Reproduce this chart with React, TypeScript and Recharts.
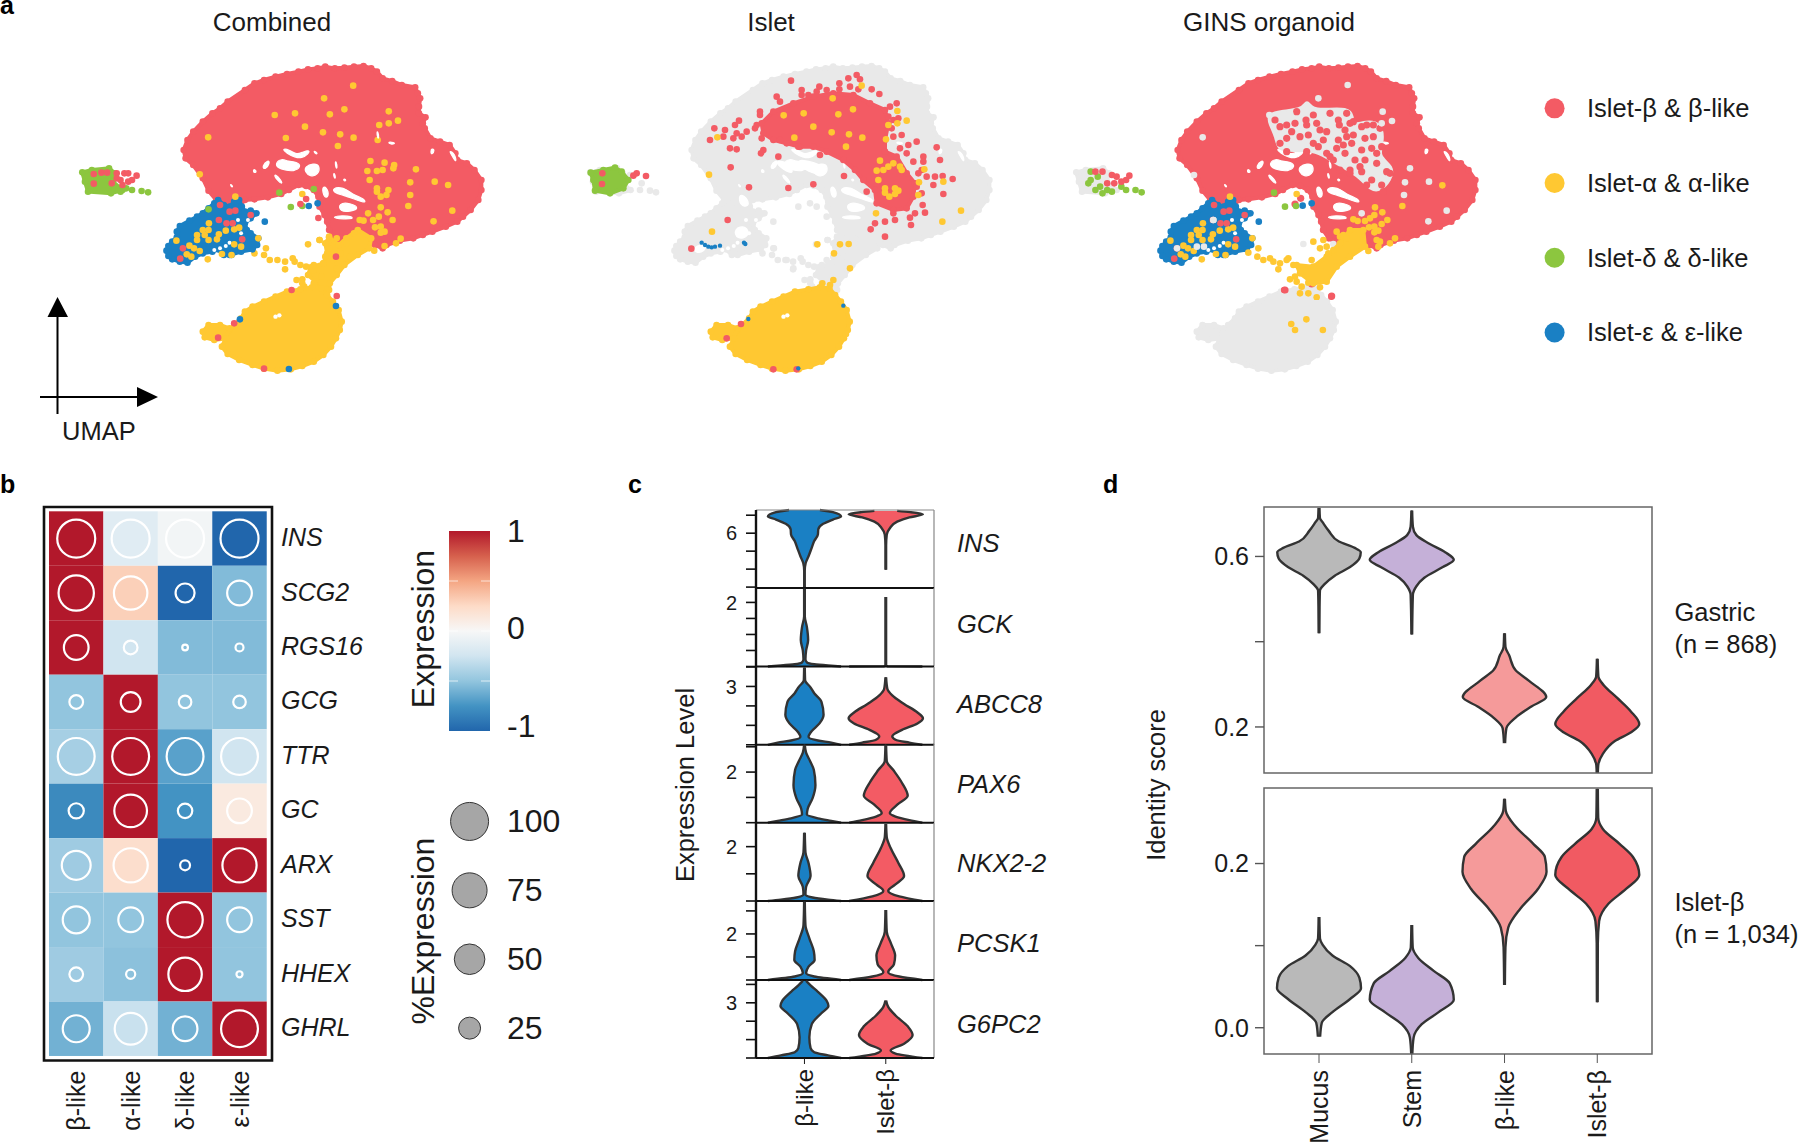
import {
  Area,
  Bar,
  BarChart,
  ComposedChart,
  ReferenceArea,
  ReferenceLine,
  Scatter,
  ScatterChart,
  XAxis,
  YAxis,
} from 'recharts';

const FONT = '"Liberation Sans", Arial, sans-serif';
const INK = '#1a1a1a';
const RED = '#f35b64';
const YELLOW = '#ffc832';
const GREEN = '#8cc63f';
const BLUE = '#1a80c4';
const GREY = '#e9e9e9';
const WHITE = '#ffffff';

// ---- panel a: UMAP in crop units ----
// shared outlines are in the units of the "Combined" crop (1568 x 1380)
const betaOutline = [
  [480, 450], [490, 420], [505, 395], [530, 365], [555, 340], [575, 325], [595, 305], [640, 270], [665, 250],
  [690, 240], [720, 230], [750, 222], [780, 215], [805, 208], [830, 205], [850, 200], [875, 205], [900, 203],
  [925, 200], [950, 198], [970, 205], [985, 215], [1000, 235], [1025, 243], [1050, 255], [1085, 262], [1092, 280],
  [1098, 295], [1095, 320], [1095, 340], [1112, 352], [1105, 370], [1110, 385], [1125, 415], [1150, 425], [1175, 435],
  [1190, 460], [1195, 480], [1220, 490], [1240, 510], [1258, 540], [1258, 570], [1250, 600], [1230, 630], [1210, 650],
  [1195, 665], [1165, 680], [1130, 695], [1105, 705], [1080, 715], [1045, 722], [1010, 735], [1000, 745], [980, 735],
  [950, 725], [920, 735], [890, 725], [875, 715], [860, 690], [855, 665], [848, 645], [835, 620], [832, 590],
  [820, 570], [800, 558], [780, 555], [755, 570], [735, 582], [700, 592], [665, 598], [640, 600], [620, 625],
  [585, 625], [565, 600], [545, 572], [530, 535], [505, 495], [485, 475],
];
const stemOutline = [
  [860, 712], [885, 735], [905, 715], [935, 690], [970, 715], [965, 745], [935, 765], [900, 795], [880, 825],
  [862, 850], [860, 870], [825, 872], [825, 845], [805, 825], [812, 802], [845, 790], [855, 760], [850, 730],
];
const stemEdgeDots = [[925, 700], [905, 730], [890, 760], [870, 780], [915, 770], [880, 805], [835, 720], [818, 812], [790, 838], [852, 868]];
const ringDots = [
  [835, 720], [860, 710], [880, 715], [860, 745], [850, 770], [845, 790], [820, 795], [800, 800], [785, 795],
  [770, 785], [765, 775], [745, 785], [745, 808], [725, 780], [705, 780], [690, 765], [695, 745], [665, 760],
  [805, 733], [775, 840], [790, 850], [795, 860], [820, 850], [840, 830],
];
const alphaOutline = [
  [580, 1040], [590, 1015], [600, 990], [612, 975], [630, 955], [640, 935], [660, 920], [690, 905], [720, 890],
  [750, 875], [785, 868], [815, 862], [840, 865], [855, 885], [870, 905], [885, 930], [893, 965], [888, 990],
  [878, 1015], [865, 1040], [845, 1065], [820, 1085], [790, 1098], [760, 1108], [725, 1112], [690, 1106],
  [660, 1095], [625, 1080], [595, 1062],
];
const alphaLobe = [[530, 995], [545, 975], [575, 975], [600, 985], [590, 1015], [560, 1020], [535, 1012]];
const alphaHoles = [[720, 950], [730, 946]];
const alphaRedSpecks = [[880, 888], [878, 770], [612, 970], [570, 1013], [690, 1106], [762, 870]];
const alphaBlueSpecks = [[627, 958], [755, 1107], [878, 918]];
const epsilonOutline = [
  [435, 752], [440, 738], [450, 725], [462, 712], [462, 695], [470, 678], [495, 662], [515, 650], [530, 640],
  [545, 625], [560, 610], [570, 600], [585, 615], [600, 620], [612, 605], [625, 600], [632, 620], [640, 635],
  [655, 632], [670, 640], [655, 655], [640, 670], [645, 690], [655, 700], [675, 715], [672, 735], [660, 748],
  [630, 755], [600, 765], [585, 765], [570, 748], [555, 755], [530, 760], [510, 770], [490, 788], [470, 785],
  [450, 778], [440, 768],
];
const epsilonGaps = [[575, 745], [590, 738], [600, 728], [630, 700], [622, 660], [648, 660], [560, 750]];
const epsilonExtra = [[692, 665], [595, 760], [605, 765]];
const epsilonYellow = [
  [546, 670], [530, 690], [545, 690], [515, 705], [535, 705], [515, 720], [545, 720], [572, 703], [590, 692],
  [612, 688], [625, 683], [567, 718], [461, 722], [495, 737], [507, 745], [522, 753], [488, 763], [500, 770],
  [612, 733], [630, 740], [675, 715], [543, 778], [580, 762], [605, 765],
];
const epsilonRed = [
  [572, 660], [592, 670], [608, 670], [478, 745], [471, 776], [633, 718], [600, 635], [615, 632], [655, 645], [575, 615],
];
const deltaOutline = [
  [215, 517], [240, 510], [285, 505], [300, 520], [295, 545], [320, 570], [290, 580], [230, 575], [222, 545],
];
const deltaDots = [[345, 570], [370, 573], [387, 577], [315, 575], [330, 565]];
const deltaRed = [
  [245, 522], [265, 518], [280, 518], [305, 520], [325, 520], [335, 520], [357, 527], [245, 551], [292, 550],
  [305, 535], [315, 540], [335, 545], [345, 540], [320, 555],
];
const combinedYellow = [
  [923, 257], [847, 295], [718, 345], [771, 340], [862, 343], [900, 328], [1016, 334], [797, 380], [844, 397],
  [889, 403], [924, 413], [747, 414], [883, 438], [544, 412], [991, 375], [1016, 370], [1040, 362], [987, 420],
  [968, 483], [1005, 488], [960, 513], [985, 513], [1000, 510], [1028, 505], [1030, 495], [1087, 508], [966, 540],
  [1072, 547], [1136, 545], [1171, 555], [985, 565], [1015, 570], [985, 575], [1010, 585], [995, 590], [1072, 585],
  [1067, 618], [995, 622], [1013, 637], [1182, 632], [1133, 664], [962, 640], [990, 650], [975, 660], [940, 660],
  [950, 662], [1026, 660], [980, 682], [995, 680], [1005, 695], [995, 698], [1047, 716], [1035, 730], [1005, 738],
  [978, 752], [522, 523], [615, 590], [790, 582],
];
const ringGreen = [[760, 621], [790, 618], [730, 578], [820, 567], [545, 628]];
const ringBlue = [[807, 618], [830, 610]];
const ringRed = [[785, 612], [800, 597], [832, 654]];

// white gaps in the beta cloud, units of a 900 x 450 crop of its lower half
const cloudGaps = [
  [[335, 55], [360, 60], [380, 75], [400, 65], [420, 60], [415, 72], [395, 85], [375, 82], [350, 70]],
  [[430, 60], [445, 72], [435, 72]],
  [[315, 100], [335, 85], [355, 95], [380, 95], [395, 110], [370, 125], [345, 120], [325, 115]],
  [[405, 110], [430, 100], [450, 105], [445, 135], [420, 140], [405, 125]],
  [[275, 110], [295, 88], [300, 100], [285, 120]],
  [[250, 115], [262, 125], [250, 130]],
  [[310, 130], [330, 145], [340, 165], [320, 150]],
  [[455, 170], [470, 170], [478, 200], [462, 205]],
  [[485, 175], [520, 170], [550, 195], [580, 205], [590, 220], [560, 210], [520, 195], [495, 190]],
  [[505, 220], [540, 218], [570, 235], [540, 245], [510, 245]],
  [[480, 262], [520, 255], [560, 265], [520, 268]],
  [[495, 95], [499, 95], [502, 115], [498, 115]],
  [[490, 130], [494, 130], [497, 145], [493, 145]],
  [[620, 5], [624, 5], [627, 25], [623, 25]],
  [[650, 35], [680, 38], [665, 45]],
  [[785, 55], [795, 60], [785, 75], [782, 65]],
  [[835, 60], [855, 70], [860, 100], [848, 80]],
  [[180, 160], [190, 170], [184, 172]],
  [[520, 145], [530, 150], [522, 155]],
];

// Islet only, units of its own crop (1380 x 1080)
const isletGaps = [
  [[640, 360], [685, 365], [705, 405], [670, 390]],
  [[720, 355], [800, 380], [800, 400], [760, 405], [710, 370]],
  [[535, 460], [560, 470], [570, 500], [540, 500]],
  [[400, 620], [440, 610], [435, 635], [405, 640]],
  [[520, 565], [560, 555], [570, 590], [530, 600]],
];
const isletRedRegion = [
  [605, 250], [640, 215], [700, 190], [760, 170], [820, 160], [880, 165], [930, 190], [975, 210], [985, 250],
  [975, 300], [975, 335], [1010, 350], [1040, 400], [1065, 430], [1060, 470], [1040, 505], [1000, 510], [950, 490],
  [945, 450], [910, 420], [885, 390], [850, 360], [800, 335], [760, 320], [720, 320], [680, 310], [640, 300], [610, 280],
];
const isletRedDots = [
  [693, 122], [650, 170], [660, 185], [725, 150], [725, 165], [770, 155], [778, 140], [838, 130], [838, 148],
  [865, 115], [890, 105], [900, 118], [870, 140], [895, 148], [935, 148], [958, 162], [1010, 190], [990, 200],
  [1015, 235], [1000, 240], [995, 265], [1025, 285], [1000, 290], [1045, 315], [1070, 305], [1020, 325], [1130, 322],
  [1090, 350], [1090, 365], [1060, 365], [1140, 360], [1085, 390], [1100, 410], [1125, 410], [1148, 408], [1178, 417],
  [1120, 435], [1150, 462], [1088, 495], [1095, 518], [1065, 520], [1050, 533], [1053, 555], [1000, 520], [1005, 540],
  [975, 545], [945, 550], [932, 568], [975, 590], [463, 265], [450, 300], [490, 290], [495, 270], [525, 255],
  [537, 242], [530, 280], [520, 295], [545, 290], [560, 275], [585, 265], [600, 215], [600, 225], [590, 255],
  [605, 295], [610, 330], [603, 340], [510, 325], [530, 328], [655, 350], [512, 382], [567, 442], [685, 444],
  [760, 433], [852, 408], [920, 455], [503, 540], [394, 626], [543, 852], [500, 895], [660, 300], [715, 320], [780, 345],
  [640, 988], [710, 988], [745, 165], [800, 150], [985, 230], [1040, 340], [1075, 400], [1070, 440], [1085, 460],
];
const isletYellowDots = [
  [905, 137], [818, 175], [671, 226], [731, 220], [835, 223], [879, 208], [760, 260], [815, 277], [867, 283],
  [907, 293], [703, 293], [858, 320], [472, 292], [447, 404], [1012, 213], [1040, 242], [1012, 250], [985, 255],
  [978, 298], [960, 362], [985, 380], [1000, 370], [950, 392], [970, 390], [1020, 380], [1025, 390], [1093, 388],
  [955, 420], [1077, 427], [1150, 425], [975, 445], [1005, 445], [1015, 452], [975, 458], [1005, 462], [988, 470],
  [1075, 465], [948, 520], [1203, 512], [1147, 545], [456, 575], [772, 613], [840, 613], [866, 612], [822, 640],
  [870, 685], [787, 730], [820, 720], [810, 735], [858, 882],
];
const isletBlueDots = [[425, 608], [435, 615], [445, 620], [455, 622], [465, 620], [480, 617], [552, 608], [556, 612], [850, 797], [565, 837], [715, 985]];
const isletGreyDots = [
  [640, 545], [750, 490], [715, 500], [770, 500], [800, 530], [640, 625], [680, 660], [700, 685], [800, 660],
  [850, 650], [750, 720], [210, 405], [245, 430], [270, 452], [288, 457], [240, 450], [160, 397], [180, 430],
];
const isletGreen = [[92, 398], [130, 390], [165, 383], [185, 395], [205, 420], [190, 445], [150, 460], [105, 452], [100, 420]];
const isletGreenRed = [[127, 400], [126, 432], [230, 400], [220, 407], [258, 408]];

// GINS organoid core, units of a 900 x 720 crop
const ginsGreyPatch = [
  [265, 165], [300, 155], [370, 150], [380, 120], [395, 150], [440, 150], [500, 145], [520, 170], [510, 200], [560, 185],
  [600, 190], [610, 240], [590, 290], [640, 320], [630, 360], [600, 390], [575, 390], [540, 350], [490, 320], [440, 290],
  [400, 270], [340, 270], [295, 270], [290, 230], [270, 190],
];
const ginsPatchRed = [
  [378, 180], [380, 195], [345, 190], [320, 195], [335, 215], [320, 235], [360, 230], [385, 225], [410, 190], [415, 260],
  [400, 250], [430, 240], [440, 215], [475, 180], [478, 195], [495, 210], [510, 190], [520, 225], [545, 200], [555, 235],
  [475, 240], [490, 255], [515, 250], [545, 270], [495, 280], [470, 265], [580, 230], [575, 265], [525, 300], [460, 300],
  [450, 290], [480, 330], [510, 330], [555, 300], [590, 280], [620, 335], [605, 375], [575, 360], [545, 335], [500, 230],
  [420, 210], [540, 320], [580, 195], [450, 590], [455, 708], [315, 690], [395, 672], [362, 415], [345, 432],
  [285, 180], [300, 200], [350, 155], [400, 165], [450, 160], [500, 160], [520, 185], [560, 195], [600, 205], [605, 260],
  [590, 310], [630, 340], [610, 395], [560, 375], [510, 340], [440, 280], [380, 275], [320, 275], [300, 250],
];
const ginsPatchGrey = [
  [503, 75], [415, 115], [268, 165], [330, 160], [608, 155], [636, 183], [605, 190], [68, 232], [42, 345], [747, 365],
  [675, 367], [690, 325], [672, 405], [545, 460], [745, 484], [800, 452], [370, 552], [460, 552], [100, 480],
];
const ginsStem = [
  [510, 510], [550, 510], [555, 560], [510, 590], [470, 620], [440, 665], [400, 670], [360, 640], [350, 615], [400, 620],
  [440, 590], [480, 550],
];
const ginsStemDots = [
  [400, 545], [430, 540], [440, 560], [420, 565], [470, 515], [480, 530], [490, 525], [500, 535], [460, 570], [445, 580],
  [340, 615], [320, 600], [325, 595], [300, 610], [280, 605], [250, 600], [270, 595], [295, 628], [235, 565], [232, 590],
  [205, 578], [345, 650], [330, 658], [350, 665], [385, 668], [420, 682], [360, 700], [385, 700], [410, 712], [365, 680],
  [395, 600], [565, 573], [595, 560], [600, 545], [630, 550], [645, 535], [590, 540], [520, 478], [533, 483], [555, 483],
  [570, 475], [583, 465], [607, 457], [585, 442], [622, 480], [605, 492], [583, 500], [567, 502], [595, 512], [583, 517],
  [667, 438], [787, 376], [350, 402], [150, 410],
];
const ginsRingGreen = [[282, 398], [315, 440], [348, 438]];
const ginsRingBlue = [[368, 437], [395, 430]];

// GINS organoid edges, units of its legend crop (1568 x 1080)
const ginsFarRed = [[575, 770], [475, 750]];
const ginsFarGrey = [[325, 540], [248, 625], [290, 620], [305, 620]];
const ginsFarYellow = [[490, 852], [522, 838], [498, 870], [557, 870]];
const ginsGreenDots = [
  [65, 395], [80, 410], [65, 420], [60, 430], [75, 450], [90, 460], [110, 455], [130, 440], [85, 440], [100, 450],
  [140, 450], [160, 450], [173, 457],
];
const ginsGreenRed = [[75, 395], [90, 395], [110, 405], [120, 410], [100, 430], [115, 430], [130, 425], [140, 420], [147, 407]];

const umapTitles = ['Combined', 'Islet', 'GINS organoid'];
const umapLegend = ['Islet-β & β-like', 'Islet-α & α-like', 'Islet-δ & δ-like', 'Islet-ε & ε-like'];
const umapLegendColors = [RED, YELLOW, GREEN, BLUE];

// ---- panel b: scaled expression and percent expressing ----
const dotGenes = ['INS', 'SCG2', 'RGS16', 'GCG', 'TTR', 'GC', 'ARX', 'SST', 'HHEX', 'GHRL'];
const dotTypes = ['β-like', 'α-like', 'δ-like', 'ε-like'];
const dotExpression = [
  [1, -0.15, -0.03, -1],
  [1, 0.3, -1, -0.55],
  [1, -0.25, -0.55, -0.55],
  [-0.5, 1, -0.5, -0.5],
  [-0.42, 1, -0.68, -0.25],
  [-0.8, 1, -0.75, 0.12],
  [-0.45, 0.22, -1, 1],
  [-0.5, -0.5, 1, -0.5],
  [-0.45, -0.52, 1, -0.5],
  [-0.6, -0.28, -0.6, 1],
];
const dotPercent = [
  [100, 100, 100, 100],
  [93, 88, 50, 65],
  [65, 36, 15, 21],
  [36, 52, 33, 33],
  [97, 97, 97, 97],
  [40, 86, 38, 65],
  [76, 90, 26, 90],
  [71, 65, 93, 65],
  [36, 24, 88, 16],
  [71, 84, 65, 97],
];
const colorbarValues = [-1, -0.75, -0.5, -0.25, 0, 0.25, 0.5, 0.75, 1];
const colorbarColors = ['#2166ac', '#4393c3', '#92c5de', '#d1e5f0', '#f7f7f7', '#fddbc7', '#f4a582', '#d6604d', '#b2182b'];
const colorbarTicks = [-1, 0, 1];
const percentLegend = ['100', '75', '50', '25'];
const percentLegendRadius = [19, 17.5, 15.3, 11];

// ---- panel c: stacked violins, [level, half width] ----
const insLike = [[7.29, 0.19], [7.17, 0.35], [6.93, 0.45], [6.76, 0.35], [6.52, 0.23], [6.21, 0.17], [5.92, 0.165], [5.56, 0.12], [5.2, 0.09], [4.72, 0.05], [4.34, 0.015], [3.9, 0.003], [2.95, 0.003]];
const insIslet = [[7.24, 0.14], [7.17, 0.3], [7.05, 0.457], [6.88, 0.29], [6.64, 0.14], [6.28, 0.05], [5.92, 0.012], [5.32, 0.004], [3.96, 0.004]];
const gckLike = [[2.43, 0.004], [1.57, 0.004], [1.23, 0.03], [0.83, 0.045], [0.5, 0.02], [0.23, 0.012], [0.13, 0.03], [0.07, 0.12], [0.03, 0.29], [0, 0.45]];
const gckIslet = [[2.17, 0.004], [0.05, 0.004], [0.01, 0.02], [0, 0.45]];
const abcc8Like = [[3.97, 0.004], [3.31, 0.008], [2.98, 0.07], [2.65, 0.12], [2.2, 0.21], [1.55, 0.235], [1.1, 0.185], [0.66, 0.08], [0.4, 0.05], [0.22, 0.165], [0.11, 0.33], [0, 0.45]];
const abcc8Islet = [[3.47, 0.004], [2.87, 0.02], [2.54, 0.08], [2.1, 0.225], [1.66, 0.39], [1.37, 0.457], [1.1, 0.39], [0.77, 0.2], [0.44, 0.08], [0.26, 0.12], [0.11, 0.29], [0, 0.45]];
const pax6Like = [[3.08, 0.004], [2.77, 0.02], [2.43, 0.07], [2.09, 0.115], [1.49, 0.135], [0.97, 0.1], [0.55, 0.04], [0.32, 0.03], [0.17, 0.165], [0.07, 0.33], [0, 0.45]];
const pax6Islet = [[3.08, 0.004], [2.43, 0.012], [2.09, 0.09], [1.57, 0.2], [1.06, 0.27], [0.72, 0.145], [0.38, 0.05], [0.24, 0.12], [0.1, 0.29], [0, 0.45]];
const nkxLike = [[2.51, 0.004], [1.79, 0.012], [1.4, 0.05], [0.92, 0.075], [0.52, 0.02], [0.24, 0.012], [0.13, 0.1], [0.05, 0.29], [0, 0.45]];
const nkxIslet = [[2.83, 0.004], [2.35, 0.012], [1.95, 0.06], [1.4, 0.155], [0.92, 0.225], [0.6, 0.115], [0.37, 0.03], [0.17, 0.165], [0, 0.45]];
const pcskLike = [[3.4, 0.004], [2.38, 0.012], [1.81, 0.06], [1.25, 0.115], [0.87, 0.125], [0.58, 0.05], [0.3, 0.02], [0.15, 0.12], [0, 0.45]];
const pcskIslet = [[3.04, 0.004], [2.09, 0.012], [1.62, 0.06], [1.06, 0.115], [0.68, 0.1], [0.34, 0.03], [0.15, 0.165], [0, 0.45]];
const g6pcLike = [[4.19, 0.02], [3.95, 0.075], [3.6, 0.165], [3.13, 0.27], [2.82, 0.295], [2.42, 0.205], [1.84, 0.09], [1.13, 0.06], [0.54, 0.075], [0.31, 0.12], [0.14, 0.29], [0, 0.45]];
const g6pcIslet = [[3.13, 0.004], [2.78, 0.03], [2.31, 0.12], [1.72, 0.27], [1.25, 0.33], [0.78, 0.225], [0.42, 0.06], [0.24, 0.12], [0, 0.45]];

const stackGenes = ['INS', 'GCK', 'ABCC8', 'PAX6', 'NKX2-2', 'PCSK1', 'G6PC2'];
const stackDomains = [[2.95, 7.29], [0, 2.45], [0, 4], [0, 3.11], [0, 2.87], [0, 3.43], [0, 4.24]];
const stackTicks = [[3, 4, 5, 6, 7], [0, 0.5, 1, 1.5, 2], [0, 1, 2, 3, 4], [0, 1, 2, 3], [0, 1, 2], [0, 1, 2, 3], [0, 1, 2, 3, 4]];
const stackLabelled = [6, 2, 3, 2, 2, 2, 3];
const stackLike = [insLike, gckLike, abcc8Like, pax6Like, nkxLike, pcskLike, g6pcLike];
const stackIslet = [insIslet, gckIslet, abcc8Islet, pax6Islet, nkxIslet, pcskIslet, g6pcIslet];
const stackTypes = ['β-like', 'Islet-β'];

// ---- panel d: identity score violins, [score, half width] ----
const gastricMucus = [[0.714, 0.005], [0.69, 0.01], [0.68, 0.04], [0.66, 0.105], [0.635, 0.215], [0.62, 0.385], [0.61, 0.45], [0.595, 0.435], [0.575, 0.335], [0.555, 0.17], [0.535, 0.06], [0.52, 0.01], [0.48, 0.006], [0.42, 0.004]];
const gastricStem = [[0.708, 0.004], [0.67, 0.012], [0.65, 0.05], [0.63, 0.19], [0.61, 0.36], [0.592, 0.453], [0.575, 0.335], [0.55, 0.135], [0.53, 0.05], [0.51, 0.012], [0.417, 0.004]];
const gastricLike = [[0.42, 0.004], [0.388, 0.01], [0.368, 0.05], [0.333, 0.12], [0.308, 0.265], [0.27, 0.45], [0.248, 0.29], [0.222, 0.12], [0.197, 0.02], [0.162, 0.006]];
const gastricIslet = [[0.36, 0.004], [0.318, 0.012], [0.298, 0.07], [0.268, 0.215], [0.237, 0.36], [0.207, 0.453], [0.187, 0.36], [0.167, 0.19], [0.137, 0.06], [0.11, 0.01], [0.092, 0.006]];
const isletMucus = [[0.135, 0.004], [0.109, 0.01], [0.101, 0.04], [0.088, 0.145], [0.075, 0.335], [0.061, 0.435], [0.048, 0.453], [0.035, 0.335], [0.019, 0.145], [0.006, 0.03], [-0.011, 0.012]];
const isletStem = [[0.125, 0.004], [0.098, 0.01], [0.085, 0.07], [0.069, 0.24], [0.054, 0.41], [0.034, 0.453], [0.019, 0.29], [0.004, 0.105], [-0.012, 0.02], [-0.032, 0.006]];
const isletLike = [[0.279, 0.004], [0.264, 0.014], [0.245, 0.12], [0.224, 0.31], [0.208, 0.435], [0.19, 0.453], [0.169, 0.36], [0.145, 0.17], [0.122, 0.04], [0.098, 0.01], [0.052, 0.004]];
const isletIslet = [[0.291, 0.006], [0.256, 0.01], [0.242, 0.06], [0.224, 0.24], [0.208, 0.385], [0.186, 0.453], [0.169, 0.31], [0.151, 0.12], [0.13, 0.02], [0.103, 0.006], [0.031, 0.004]];

const scoreTypes = ['Mucus', 'Stem', 'β-like', 'Islet-β'];
const scoreColors = ['#b9b9b9', '#c5b0d8', '#f59a9a', '#f15a62'];

const toPoints = (list: number[][]) => list.map(([x, y]) => ({ x, y }));
const toViolin = (center: number, profile: number[][]) =>
  profile.map(([level, half]) => ({ level, range: [center - half, center + half] }));

function blend(z: number) {
  let i = 0;
  while (i < colorbarValues.length - 2 && z > colorbarValues[i + 1]) i++;
  const t = (z - colorbarValues[i]) / (colorbarValues[i + 1] - colorbarValues[i]);
  const rgb = (c: string) => [1, 3, 5].map(n => parseInt(c.slice(n, n + 2), 16));
  const a = rgb(colorbarColors[i]);
  const b = rgb(colorbarColors[i + 1]);
  return `rgb(${a.map((v, k) => Math.round(v + (b[k] - v) * t)).join(',')})`;
}

type Layer = { points: number[][]; color: string; r?: number; closed?: boolean; round?: boolean; bare?: boolean };

function Umap({ left, top, width, height, xMax, yMax, layers }: {
  left: number; top: number; width: number; height: number; xMax: number; yMax: number; layers: Layer[];
}) {
  return (
    <div style={{ position: 'absolute', left, top }}>
      <ScatterChart width={width} height={height} margin={{ top: 0, right: 0, bottom: 0, left: 0 }}>
        <XAxis type="number" dataKey="x" domain={[0, xMax]} hide />
        <YAxis type="number" dataKey="y" domain={[0, yMax]} reversed hide />
        {layers.map((layer, i) => (
          <Scatter
            key={i}
            data={toPoints(layer.points)}
            fill={layer.color}
            isAnimationActive={false}
            line={layer.closed ? { fill: layer.color, stroke: layer.color, strokeWidth: (layer.r ?? 3.3) * 1.2 } : false}
            lineJointType={layer.round ? 'basisClosed' : 'linearClosed'}
            shape={(p: any) => (layer.bare ? <g /> : <circle cx={p.cx} cy={p.cy} r={layer.r ?? 3.3} fill={layer.color} />)}
          />
        ))}
      </ScatterChart>
    </div>
  );
}

const gapLayers = (gaps: number[][][]): Layer[] =>
  gaps.map(points => ({ points, color: WHITE, r: 1, closed: true, round: true, bare: true }));

const blueLayers = (): Layer[] => [
  { points: epsilonOutline, color: BLUE, closed: true },
  { points: epsilonExtra, color: BLUE },
  { points: epsilonGaps, color: WHITE, r: 2 },
  { points: epsilonYellow, color: YELLOW },
  { points: epsilonRed, color: RED },
];

const combinedLayers: Layer[] = [
  { points: betaOutline, color: RED, closed: true },
  { points: stemOutline, color: YELLOW, closed: true },
  { points: stemEdgeDots, color: YELLOW },
  { points: ringDots, color: YELLOW },
  { points: alphaOutline, color: YELLOW, closed: true },
  { points: alphaLobe, color: YELLOW, closed: true },
  { points: alphaHoles, color: WHITE, r: 2.2 },
  { points: alphaRedSpecks, color: RED },
  { points: alphaBlueSpecks, color: BLUE },
  ...blueLayers(),
  { points: deltaOutline, color: GREEN, closed: true },
  { points: deltaDots, color: GREEN },
  { points: deltaRed, color: RED },
  { points: combinedYellow, color: YELLOW },
  { points: ringGreen, color: GREEN },
  { points: ringBlue, color: BLUE },
  { points: ringRed, color: RED },
];

const isletBase: Layer[] = [
  { points: betaOutline, color: GREY, closed: true },
  { points: stemOutline, color: GREY, closed: true },
  { points: stemEdgeDots, color: GREY },
  { points: ringDots, color: GREY },
  { points: epsilonOutline, color: GREY, closed: true },
  { points: epsilonGaps, color: WHITE, r: 2 },
  { points: deltaOutline, color: GREY, closed: true },
  { points: alphaOutline, color: YELLOW, closed: true },
  { points: alphaLobe, color: YELLOW, closed: true },
  { points: alphaHoles, color: WHITE, r: 2.2 },
];
const isletOverlay: Layer[] = [
  ...gapLayers(isletGaps),
  { points: isletGreyDots, color: GREY },
  { points: isletRedRegion, color: RED, closed: true },
  { points: isletRedDots, color: RED },
  { points: isletYellowDots, color: YELLOW },
  { points: isletBlueDots, color: BLUE, r: 2.2 },
  { points: isletGreen, color: GREEN, closed: true },
  { points: isletGreenRed, color: RED },
];

const ginsBase: Layer[] = [
  { points: alphaOutline, color: GREY, closed: true },
  { points: alphaLobe, color: GREY, closed: true },
  { points: deltaOutline, color: GREY, closed: true },
  { points: betaOutline, color: RED, closed: true },
  ...blueLayers(),
];
const ginsCore: Layer[] = [
  { points: ginsGreyPatch, color: GREY, closed: true, round: true, bare: true },
  { points: ginsPatchRed, color: RED, r: 3.6 },
  { points: ginsPatchGrey, color: GREY },
  { points: ginsStem, color: YELLOW, closed: true },
  { points: ginsStemDots, color: YELLOW },
  { points: ginsRingGreen, color: GREEN },
  { points: ginsRingBlue, color: BLUE },
];
const ginsEdges: Layer[] = [
  { points: ginsFarRed, color: RED },
  { points: ginsFarGrey, color: GREY },
  { points: ginsFarYellow, color: YELLOW },
  { points: ginsGreenDots, color: GREEN },
  { points: ginsGreenRed, color: RED },
];

const RotatedTick = (labels: string[], size: number, first = 0) => (p: any) => (
  <text
    x={p.x}
    y={p.y}
    transform={`rotate(-90 ${p.x} ${p.y})`}
    textAnchor="end"
    dominantBaseline="central"
    fontSize={size}
    fontFamily={FONT}
    fill={INK}
  >
    {labels[Math.round(p.payload.value) - first]}
  </text>
);

function DotKey({ left, top, plotWidth, height, dotAt, labels, colors, radius, fontSize, textWidth }: {
  left: number; top: number; plotWidth: number; height: number; dotAt: number; labels: string[];
  colors: string[]; radius: number[]; fontSize: number; textWidth: number;
}) {
  const rows = labels.map((label, i) => ({ x: dotAt, y: i, label }));
  return (
    <div style={{ position: 'absolute', left, top }}>
      <ScatterChart width={plotWidth + textWidth} height={height} margin={{ top: 0, right: 0, bottom: 0, left: 0 }}>
        <XAxis type="number" dataKey="x" domain={[0, 1]} hide />
        <YAxis
          type="number"
          dataKey="y"
          orientation="right"
          width={textWidth}
          domain={[-0.5, labels.length - 0.5]}
          reversed
          ticks={labels.map((_, i) => i)}
          interval={0}
          axisLine={false}
          tickLine={false}
          tickSize={0}
          tickMargin={0}
          tick={(p: any) => (
            <text x={p.x} y={p.y} dominantBaseline="central" fontSize={fontSize} fontFamily={FONT} fill={INK}>
              {labels[p.payload.value]}
            </text>
          )}
        />
        <Scatter
          data={rows}
          isAnimationActive={false}
          shape={(p: any) => (
            <circle
              cx={p.cx}
              cy={p.cy}
              r={radius[p.payload.y]}
              fill={colors[p.payload.y]}
              stroke={colors[p.payload.y] === '#a6a6a6' ? '#333' : 'none'}
              strokeWidth={1}
            />
          )}
        />
      </ScatterChart>
    </div>
  );
}

const heatCells = dotGenes.flatMap((_, row) =>
  dotTypes.map((__, col) => ({ col, row, z: dotExpression[row][col], pct: dotPercent[row][col] })),
);
const CELL = 54.45;

function DotHeatmap() {
  return (
    <div style={{ position: 'absolute', left: 40, top: 502.5 }}>
      <ScatterChart width={362} height={637.5} margin={{ top: 4, right: 0, bottom: 0, left: 4 }}>
        <XAxis
          type="number"
          dataKey="col"
          domain={[-0.592, 3.597]}
          ticks={[0, 1, 2, 3]}
          interval={0}
          height={80}
          axisLine={false}
          tickLine={false}
          tickSize={0}
          tickMargin={10}
          tick={RotatedTick(dotTypes, 25)}
        />
        <YAxis
          type="number"
          dataKey="row"
          orientation="right"
          width={130}
          domain={[-0.579, 9.583]}
          reversed
          ticks={dotGenes.map((_, i) => i)}
          interval={0}
          axisLine={false}
          tickLine={false}
          tickSize={0}
          tickMargin={9}
          tick={(p: any) => (
            <text x={p.x} y={p.y - 1.5} dominantBaseline="central" fontSize={25} fontStyle="italic" fontFamily={FONT} fill={INK}>
              {dotGenes[p.payload.value]}
            </text>
          )}
        />
        <Scatter
          data={heatCells}
          isAnimationActive={false}
          shape={(p: any) => (
            <g>
              <rect x={p.cx - CELL / 2} y={p.cy - CELL / 2} width={CELL} height={CELL} fill={blend(p.payload.z)} />
              <circle cx={p.cx} cy={p.cy} r={(p.payload.pct / 100) * 19} fill="none" stroke="#fff" strokeWidth={2.2} />
            </g>
          )}
        />
        <ReferenceArea x1={-0.592} x2={3.597} y1={-0.579} y2={9.583} fill="none" stroke="#111" strokeWidth={2.6} ifOverflow="visible" />
      </ScatterChart>
    </div>
  );
}

const colorbarLabelShift: Record<number, number> = { 1: 0, 0: -3, [-1]: -5 };

function Colorbar() {
  return (
    <div style={{ position: 'absolute', left: 449, top: 505 }}>
      <BarChart
        width={101}
        height={252}
        data={[{ name: 'z', range: [-1, 1] }]}
        barCategoryGap={0}
        margin={{ top: 26, right: 0, bottom: 26, left: 0 }}
      >
        <defs>
          <linearGradient id="colorbarFill" x1="0" y1="1" x2="0" y2="0">
            {colorbarValues.map((v, i) => (
              <stop key={v} offset={`${((v + 1) / 2) * 100}%`} stopColor={colorbarColors[i]} />
            ))}
          </linearGradient>
        </defs>
        <XAxis dataKey="name" hide />
        <YAxis
          orientation="right"
          width={60}
          domain={[-1, 1]}
          ticks={colorbarTicks}
          interval={0}
          axisLine={false}
          tickLine={false}
          tickSize={0}
          tickMargin={0}
          tick={(p: any) => (
            <text
              x={p.x + 17}
              y={p.y + colorbarLabelShift[p.payload.value]}
              dominantBaseline="central"
              fontSize={32}
              fontFamily={FONT}
              fill={INK}
            >
              {p.payload.value}
            </text>
          )}
        />
        <Bar dataKey="range" fill="url(#colorbarFill)" isAnimationActive={false} />
        {[-0.5, 0, 0.5].map(v => (
          <ReferenceLine key={v} y={v} stroke="#fff" strokeOpacity={0.7} strokeWidth={1} strokeDasharray="9 23 9" />
        ))}
      </BarChart>
    </div>
  );
}

const STACK_TOPS = [510, 588, 666.5, 744.3, 823, 901, 980, 1058];

function StackRow({ row }: { row: number }) {
  const last = row === stackGenes.length - 1;
  const [lo, hi] = stackDomains[row];
  const plotHeight = STACK_TOPS[row + 1] - STACK_TOPS[row];
  return (
    <div style={{ position: 'absolute', left: 676, top: STACK_TOPS[row] - 3 }}>
      <ComposedChart
        layout="vertical"
        width={261}
        height={plotHeight + 3 + (last ? 86 : 3)}
        margin={{ top: 3, right: 3, bottom: last ? 0 : 3, left: 0 }}
      >
        <XAxis
          type="number"
          domain={[0.404, 2.593]}
          ticks={[1, 2]}
          interval={0}
          hide={!last}
          height={86}
          axisLine={false}
          tickSize={6}
          tickMargin={5}
          stroke={INK}
          tick={RotatedTick(stackTypes, 24, 1)}
        />
        <YAxis
          type="number"
          dataKey="level"
          domain={[lo, hi]}
          reversed
          ticks={stackTicks[row]}
          interval={0}
          width={80}
          axisLine={{ stroke: '#111', strokeWidth: 2.4 }}
          tickLine={{ stroke: '#111', strokeWidth: 1.6 }}
          tickSize={10}
          tickMargin={9}
          tick={{ fontSize: 20, fontFamily: FONT, fill: INK }}
          tickFormatter={(v: number) => (v === stackLabelled[row] ? String(v) : '')}
        />
        {row === 0 && <ReferenceLine y={hi} stroke="#888" strokeWidth={1.2} />}
        <ReferenceLine x={2.593} stroke="#888" strokeWidth={1.2} />
        <Area
          data={toViolin(1, stackLike[row])}
          dataKey="range"
          type="monotone"
          fill={BLUE}
          fillOpacity={1}
          stroke="#333"
          strokeWidth={2.4}
          dot={false}
          activeDot={false}
          isAnimationActive={false}
        />
        <Area
          data={toViolin(2, stackIslet[row])}
          dataKey="range"
          type="monotone"
          fill={RED}
          fillOpacity={1}
          stroke="#333"
          strokeWidth={2.4}
          dot={false}
          activeDot={false}
          isAnimationActive={false}
        />
        <ReferenceLine y={lo} stroke="#111" strokeWidth={2} />
      </ComposedChart>
    </div>
  );
}

function ScorePanel({ top, domain, ticks, violins, withAxis }: {
  top: number; domain: number[]; ticks: number[]; violins: number[][][]; withAxis: boolean;
}) {
  return (
    <div style={{ position: 'absolute', left: 1164, top: top - 3 }}>
      <ComposedChart
        layout="vertical"
        width={491}
        height={withAxis ? 359 : 272}
        margin={{ top: 3, right: 3, bottom: withAxis ? 0 : 3, left: 0 }}
      >
        <XAxis
          type="number"
          domain={[0.407, 4.59]}
          ticks={[1, 2, 3, 4]}
          interval={0}
          hide={!withAxis}
          height={90}
          axisLine={false}
          tickSize={9}
          tickMargin={7}
          stroke="#555"
          tick={RotatedTick(scoreTypes, 25, 1)}
        />
        <YAxis
          type="number"
          dataKey="level"
          domain={domain}
          reversed
          ticks={ticks}
          interval={0}
          width={100}
          axisLine={false}
          tickLine={{ stroke: '#555', strokeWidth: 1.4 }}
          tickSize={9}
          tickMargin={6}
          tick={{ fontSize: 25, fontFamily: FONT, fill: INK }}
          tickFormatter={(v: number) => (v === ticks[1] ? '' : v.toFixed(1))}
        />
        {violins.map((profile, i) => (
          <Area
            key={i}
            data={toViolin(i + 1, profile)}
            dataKey="range"
            type="monotone"
            fill={scoreColors[i]}
            fillOpacity={1}
            stroke="#333"
            strokeWidth={2.4}
            dot={false}
            activeDot={false}
            isAnimationActive={false}
          />
        ))}
        <ReferenceArea x1={0.407} x2={4.59} y1={domain[0]} y2={domain[1]} fill="none" stroke="#666" strokeWidth={1.5} ifOverflow="visible" />
      </ComposedChart>
    </div>
  );
}

function T({ x, y, size = 25, rotate, italic, bold, anchor = 'start', children }: {
  x: number; y: number; size?: number; rotate?: boolean; italic?: boolean; bold?: boolean; anchor?: string; children: string;
}) {
  return (
    <text
      x={x}
      y={y}
      fontSize={size}
      fontFamily={FONT}
      fontStyle={italic ? 'italic' : undefined}
      fontWeight={bold ? 700 : undefined}
      textAnchor={anchor as any}
      dominantBaseline={bold ? undefined : 'central'}
      fill={bold ? '#000' : INK}
      transform={rotate ? `rotate(-90 ${x} ${y})` : undefined}
    >
      {children}
    </text>
  );
}

const stackLabelY = [543, 623.5, 704, 784, 863, 943, 1024];

export default function App() {
  return (
    <div style={{ position: 'absolute', left: 0, top: 0, width: 1800, height: 1144, background: '#fff', overflow: 'hidden' }}>
      <Umap left={0} top={0} width={600} height={460} xMax={1568} yMax={1380} layers={combinedLayers} />
      <Umap left={170} top={130} width={300} height={150} xMax={900} yMax={450} layers={gapLayers(cloudGaps)} />

      <Umap left={508} top={0} width={600} height={460} xMax={1568} yMax={1380} layers={isletBase} />
      <Umap left={678} top={130} width={300} height={150} xMax={900} yMax={450} layers={gapLayers(cloudGaps)} />
      <Umap left={560} top={40} width={460} height={360} xMax={1380} yMax={1080} layers={isletOverlay} />

      <Umap left={994} top={0} width={600} height={460} xMax={1568} yMax={1380} layers={ginsBase} />
      <Umap left={1164} top={130} width={300} height={150} xMax={900} yMax={450} layers={gapLayers(cloudGaps)} />
      <Umap left={1180} top={60} width={300} height={240} xMax={900} yMax={720} layers={ginsCore} />
      <Umap left={1060} top={40} width={740} height={360} xMax={1568} yMax={1080} layers={ginsEdges} />

      <DotKey
        left={1530}
        top={70.6}
        plotWidth={57}
        height={298.8}
        dotAt={0.4316}
        labels={umapLegend}
        colors={umapLegendColors}
        radius={[10, 10, 10, 10]}
        fontSize={25.5}
        textWidth={213}
      />

      <DotHeatmap />
      <Colorbar />
      <DotKey
        left={430}
        top={786.5}
        plotWidth={77}
        height={275.6}
        dotAt={0.514}
        labels={percentLegend}
        colors={['#a6a6a6', '#a6a6a6', '#a6a6a6', '#a6a6a6']}
        radius={percentLegendRadius}
        fontSize={32}
        textWidth={80}
      />

      {stackGenes.map((_, row) => (
        <StackRow key={row} row={row} />
      ))}

      <ScorePanel
        top={507}
        domain={[0.092, 0.716]}
        ticks={[0.2, 0.4, 0.6]}
        violins={[gastricMucus, gastricStem, gastricLike, gastricIslet]}
        withAxis={false}
      />
      <ScorePanel
        top={788}
        domain={[-0.032, 0.292]}
        ticks={[0, 0.1, 0.2]}
        violins={[isletMucus, isletStem, isletLike, isletIslet]}
        withAxis
      />

      <svg width={1800} height={1144} style={{ position: 'absolute', left: 0, top: 0, pointerEvents: 'none' }}>
        <T x={0} y={14} bold>a</T>
        <T x={0} y={493} bold>b</T>
        <T x={628} y={493} bold>c</T>
        <T x={1103} y={493} bold>d</T>

        <T x={272} y={22} size={26} anchor="middle">{umapTitles[0]}</T>
        <T x={771} y={22} size={26} anchor="middle">{umapTitles[1]}</T>
        <T x={1269} y={22} size={26} anchor="middle">{umapTitles[2]}</T>

        <path d="M57.5 317V414M40 397H138" stroke="#000" strokeWidth={2} fill="none" />
        <path d="M57.5 297L68 317H47.5ZM158 397L137 387V407Z" fill="#000" />
        <T x={62} y={431} size={25.5}>UMAP</T>

        <T x={423} y={629} size={32} rotate anchor="middle">Expression</T>
        <T x={423} y={931} size={32} rotate anchor="middle">%Expression</T>

        <T x={685} y={785} size={25.5} rotate anchor="middle">Expression Level</T>
        {stackGenes.map((gene, i) => (
          <T key={gene} x={957} y={stackLabelY[i]} size={25.5} italic>{gene}</T>
        ))}

        <T x={1156} y={785} size={25.5} rotate anchor="middle">Identity score</T>
        <T x={1674.5} y={612} size={25.5}>Gastric</T>
        <T x={1674.5} y={644} size={25.5}>(n = 868)</T>
        <T x={1674.5} y={902} size={25.5}>Islet-β</T>
        <T x={1674.5} y={934} size={25.5}>(n = 1,034)</T>
      </svg>
    </div>
  );
}
